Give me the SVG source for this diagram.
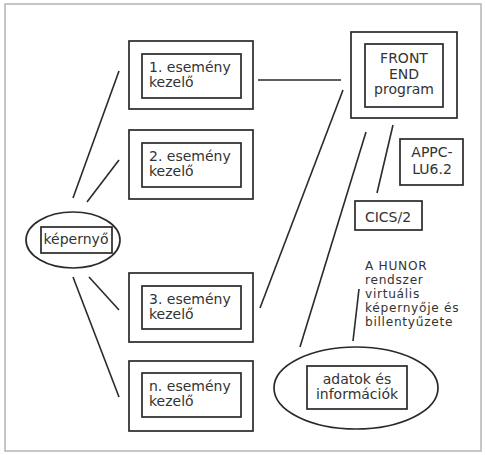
<svg xmlns="http://www.w3.org/2000/svg" width="485" height="455" viewBox="0 0 485 455">
<style>
.f{fill:none;stroke:#2a2a2a;stroke-width:1.7}
.t{font-family:"DejaVu Sans",sans-serif;font-size:14px;fill:#333}
.h{font-size:12.2px;letter-spacing:0.7px}
.m{text-anchor:middle}
.c{stroke:#2a2a2a;stroke-width:1.6;fill:none}
</style>
<rect x="0" y="0" width="485" height="455" fill="#fff"/>
<rect x="5" y="4" width="476" height="447" fill="none" stroke="#b4b4b4" stroke-width="1.5"/>
<g id="connectors" class="c">
<line x1="119" y1="71" x2="73" y2="198"/>
<line x1="119" y1="160" x2="87" y2="202"/>
<line x1="73" y1="277" x2="119" y2="397"/>
<line x1="89" y1="277" x2="119" y2="310"/>
<line x1="258" y1="80" x2="341" y2="80"/>
<line x1="343" y1="90" x2="260" y2="308"/>
<line x1="366" y1="132" x2="300" y2="347"/>
<line x1="393" y1="125" x2="377" y2="193"/>
<line x1="359" y1="289" x2="353" y2="341"/>
</g>
<g id="esemeny1">
<rect class="f" x="129" y="41" width="124" height="68"/>
<rect class="f" x="142" y="54" width="99" height="44"/>
<text class="t" x="149" y="72">1. esemény</text>
<text class="t" x="149" y="87">kezelő</text>
</g>
<g id="esemeny2">
<rect class="f" x="129" y="130" width="124" height="69"/>
<rect class="f" x="142" y="143" width="99" height="44"/>
<text class="t" x="149" y="161">2. esemény</text>
<text class="t" x="149" y="176">kezelő</text>
</g>
<g id="esemeny3">
<rect class="f" x="129" y="273" width="124" height="69"/>
<rect class="f" x="142" y="286" width="99" height="43"/>
<text class="t" x="149" y="304">3. esemény</text>
<text class="t" x="149" y="319">kezelő</text>
</g>
<g id="esemenyn">
<rect class="f" x="129" y="361" width="124" height="70"/>
<rect class="f" x="142" y="373" width="99" height="44"/>
<text class="t" x="149" y="391">n. esemény</text>
<text class="t" x="149" y="406">kezelő</text>
</g>
<g id="frontend">
<rect class="f" x="351" y="32" width="106" height="86"/>
<rect class="f" x="365" y="44" width="78" height="63"/>
<text class="t m" x="404" y="63">FRONT</text>
<text class="t m" x="404" y="79">END</text>
<text class="t m" x="404" y="94">program</text>
</g>
<g id="appc">
<rect class="f" x="400" y="139" width="63" height="46"/>
<text class="t m" x="432" y="157">APPC-</text>
<text class="t m" x="432" y="174">LU6.2</text>
</g>
<g id="cics">
<rect class="f" x="355" y="201" width="67" height="29"/>
<text class="t m" x="388" y="222">CICS/2</text>
</g>
<g id="hunor">
<text class="t h" x="365" y="270">A HUNOR</text>
<text class="t h" x="365" y="284">rendszer</text>
<text class="t h" x="365" y="298">virtuális</text>
<text class="t h" x="365" y="312">képernyője és</text>
<text class="t h" x="365" y="326">billentyűzete</text>
</g>
<g id="kepernyo">
<ellipse class="f" cx="73" cy="240" rx="47" ry="28"/>
<rect class="f" x="41" y="227" width="71" height="26"/>
<text class="t m" x="76" y="244">képernyő</text>
</g>
<g id="adatok">
<ellipse class="f" cx="356" cy="388" rx="82" ry="41"/>
<rect class="f" x="307" y="366" width="100" height="43"/>
<text class="t m" x="357" y="384">adatok és</text>
<text class="t m" x="357" y="399">információk</text>
</g>
</svg>
